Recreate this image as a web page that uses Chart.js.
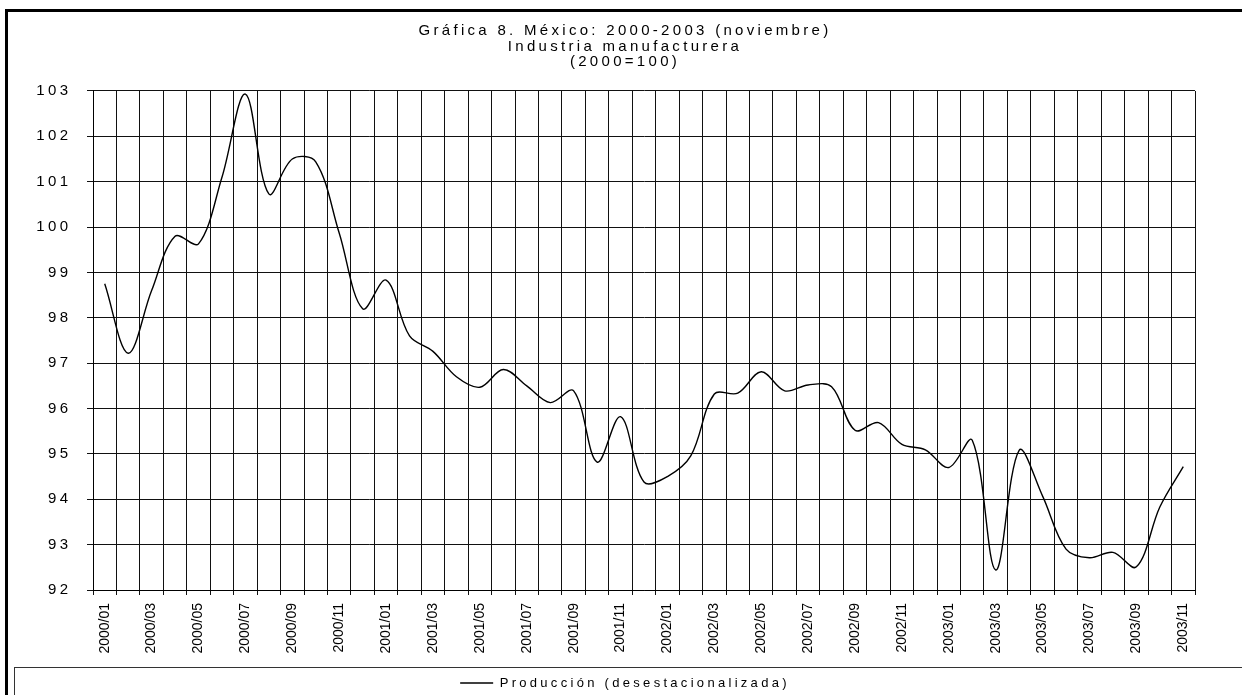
<!DOCTYPE html>
<html>
<head>
<meta charset="utf-8">
<script src="https://cdn.jsdelivr.net/npm/chart.js@4"></script>
<style>
  html, body { margin: 0; padding: 0; background: #fff; overflow: hidden; }
  #marco { position: absolute; left: 5px; top: 9px; width: 1300px; height: 800px;
           border-left: 3px solid #000; border-top: 3px solid #000; }
  #grafica { position: absolute; left: 0; top: 0; }
</style>
</head>
<body>
<div id="marco"><canvas id="grafica" width="1234" height="683"></canvas></div>
<script>
const meses = ['2000/01','2000/02','2000/03','2000/04','2000/05','2000/06','2000/07','2000/08','2000/09','2000/10','2000/11','2000/12',
               '2001/01','2001/02','2001/03','2001/04','2001/05','2001/06','2001/07','2001/08','2001/09','2001/10','2001/11','2001/12',
               '2002/01','2002/02','2002/03','2002/04','2002/05','2002/06','2002/07','2002/08','2002/09','2002/10','2002/11','2002/12',
               '2003/01','2003/02','2003/03','2003/04','2003/05','2003/06','2003/07','2003/08','2003/09','2003/10','2003/11'];
const produccion = [98.75, 97.22, 98.6, 99.8, 99.63, 101.1, 102.93, 100.73, 101.5, 101.44, 99.87, 98.2,
                    98.83, 97.6, 97.26, 96.7, 96.47, 96.86, 96.5, 96.13, 96.39, 94.82, 95.82, 94.38,
                    94.5, 94.96, 96.32, 96.34, 96.81, 96.39, 96.52, 96.48, 95.52, 95.69, 95.21, 95.09,
                    94.7, 95.3, 92.44, 95.08, 94.07, 92.9, 92.71, 92.83, 92.51, 93.83, 94.72];
const titulo = ['Gráfica 8. México: 2000-2003 (noviembre)', 'Industria manufacturera', '(2000=100)'];
const serie = 'Producción (desestacionalizada)';
const yMin = 92, yMax = 103;

const fuente = "Arial, 'Liberation Sans', sans-serif";
const ancho = '3.3px';

// espaciado de letras: amplio para titulo, leyenda y eje y; nulo para el eje x
const espaciado = {
    id: 'espaciado',
    beforeLayout(chart) { chart.ctx.letterSpacing = ancho; },
    afterLayout(chart) { chart.ctx.letterSpacing = '0px'; },
    beforeDraw(chart) { chart.ctx.letterSpacing = ancho; },
    afterDatasetsDraw(chart) { chart.ctx.letterSpacing = '0px'; },
    afterDraw(chart) {
        const ctx = chart.ctx;
        ctx.letterSpacing = '0px';
        // caja de la leyenda
        ctx.save();
        ctx.strokeStyle = '#333';
        ctx.lineWidth = 1;
        ctx.strokeRect(6.5, Math.round(chart.legend.top) + 0.5, chart.width + 20, 100);
        ctx.restore();
    }
};

const ctx = document.getElementById('grafica').getContext('2d');
const grafica = new Chart(ctx, {
    type: 'line',
    data: {
        labels: meses,
        datasets: [{
            label: serie,
            data: produccion,
            borderColor: '#000',
            borderWidth: 1.4,
            pointRadius: 0,
            tension: 0.35,
            fill: false
        }]
    },
    options: {
        responsive: false,
        animation: false,
        layout: { padding: { left: 0, right: 0, top: 0, bottom: -4.5 } },
        plugins: {
            title: {
                display: true,
                text: titulo,
                color: '#000',
                font: { family: fuente, size: 15, weight: 'normal', lineHeight: 1.033 },
                padding: { top: 11.25, bottom: 21.25 }
            },
            legend: {
                position: 'bottom',
                labels: {
                    color: '#000',
                    font: { family: fuente, size: 13 },
                    usePointStyle: true,
                    pointStyle: 'line',
                    pointStyleWidth: 33,
                    padding: 9.5
                }
            },
            tooltip: { enabled: false }
        },
        scales: {
            x: {
                offset: true,
                grid: { offset: true, color: '#111', lineWidth: 1, tickLength: 5, tickColor: '#111' },
                border: { color: '#000', width: 1 },
                ticks: {
                    z: 1,
                    autoSkip: false,
                    maxRotation: 90,
                    minRotation: 90,
                    padding: 8,
                    color: '#000',
                    font: { family: fuente, size: 14 },
                    callback: function (v, i) { return i % 2 === 0 ? meses[i] : ''; }
                },
                afterFit: function (s) { s.height = 77; }
            },
            y: {
                min: yMin,
                max: yMax,
                grid: { color: '#111', lineWidth: 1, tickLength: 6, tickColor: '#111' },
                border: { color: '#000', width: 1 },
                ticks: {
                    stepSize: 1,
                    padding: 15.7,
                    color: '#000',
                    font: { family: fuente, size: 15 }
                },
                afterFit: function (s) { s.width = 85; }
            },
            derecha: {
                position: 'right',
                grid: { display: false },
                border: { display: false },
                ticks: { display: false },
                afterFit: function (s) { s.width = 47; }
            }
        }
    },
    plugins: [espaciado]
});
</script>
</body>
</html>
